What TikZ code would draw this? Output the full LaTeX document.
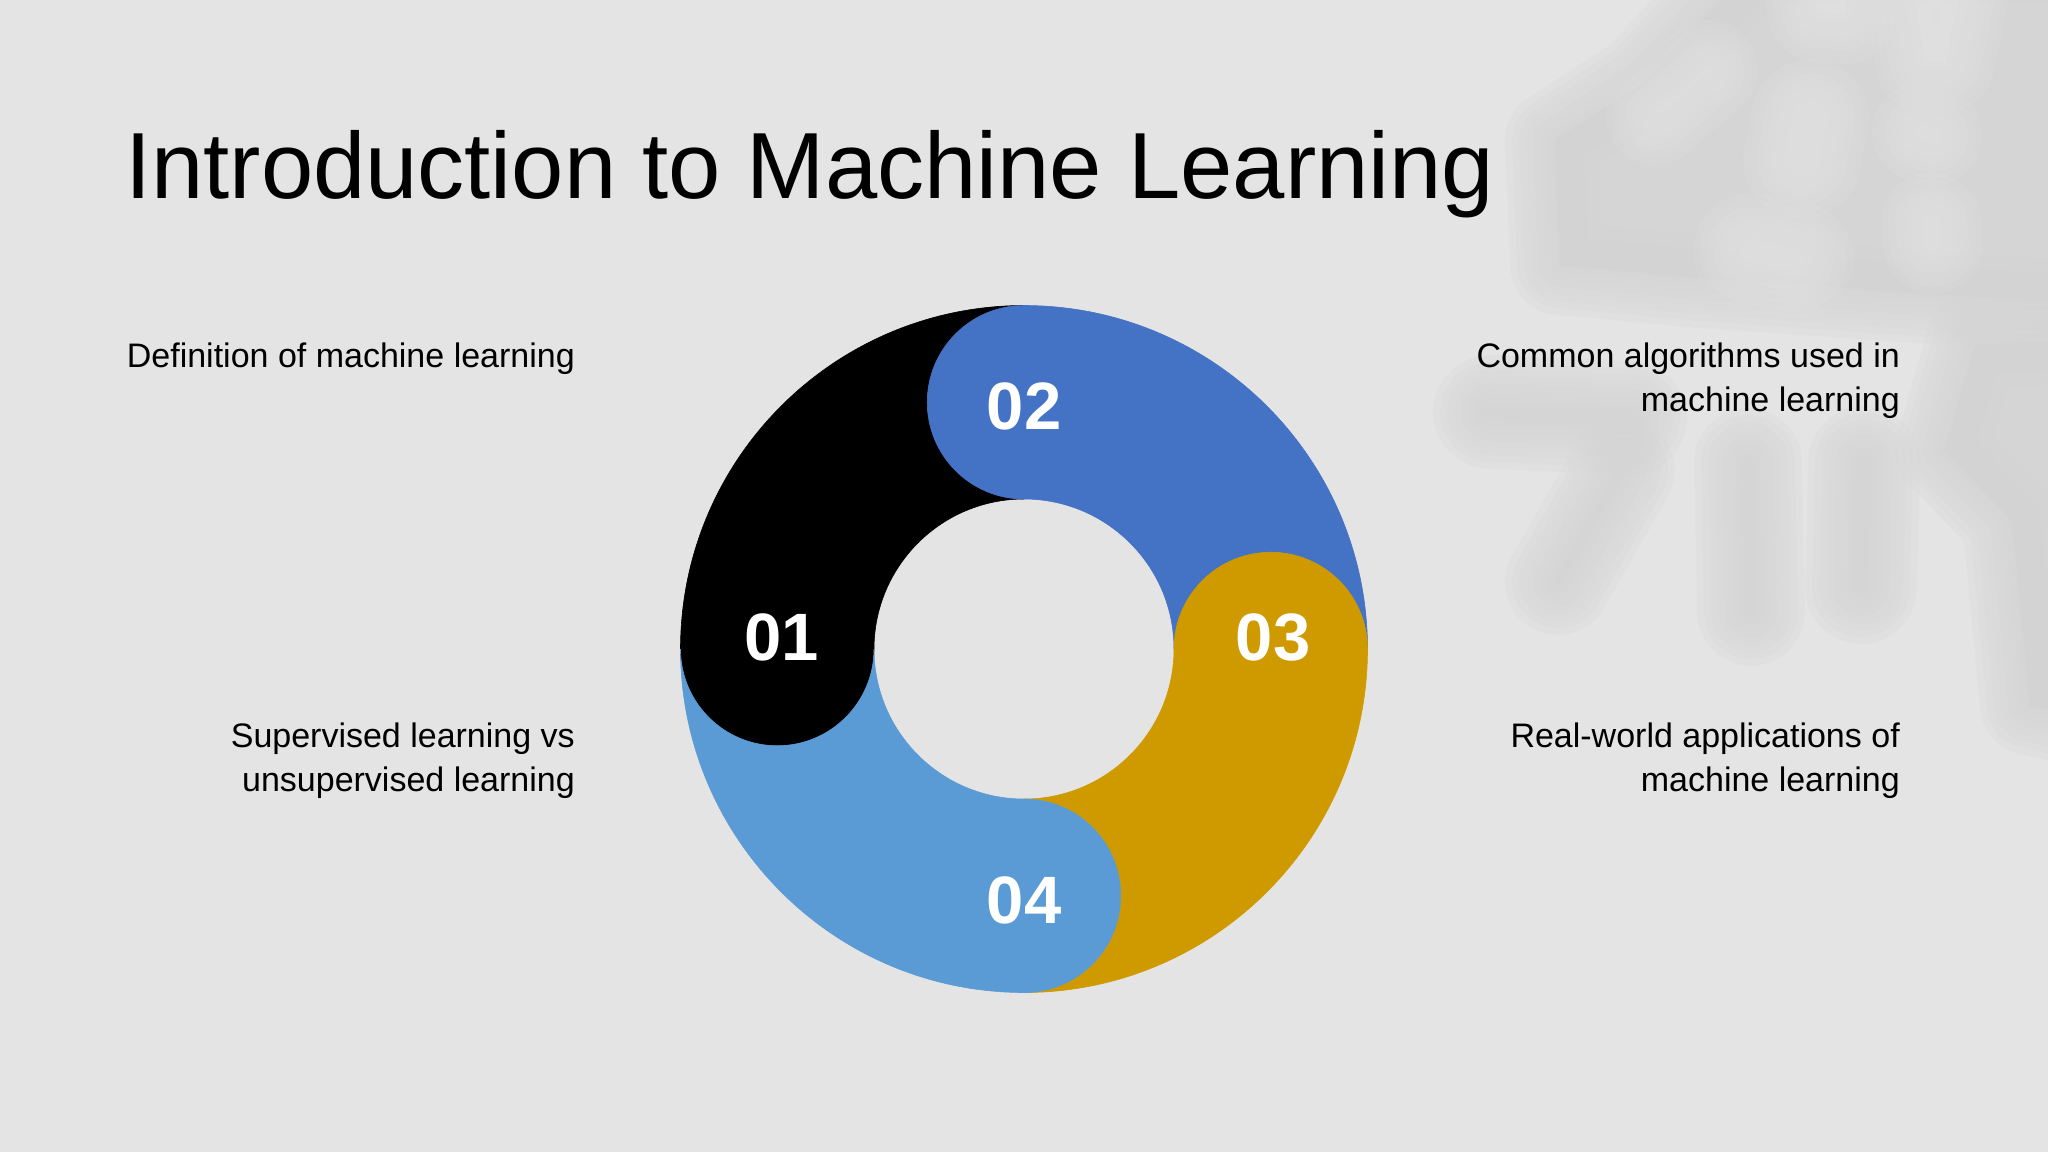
\documentclass[tikz,border=0pt]{standalone}
\usepackage{fontspec}
\setmainfont{Liberation Sans}
\definecolor{bgcol}{HTML}{E5E4E4}
\definecolor{segblack}{HTML}{000000}
\definecolor{segblue}{HTML}{4472C4}
\definecolor{seggold}{HTML}{CF9A00}
\definecolor{seglight}{HTML}{5B9BD5}
\tikzset{
  numlabel/.style={text=white, font=\bfseries\fontsize{67}{80}\selectfont, inner sep=0pt},
  bodytext/.style={text=black, font=\fontsize{34}{44}\selectfont, inner sep=0pt, align=right},
  titletext/.style={text=black, font=\fontsize{94}{110}\selectfont, inner sep=0pt},
  softpass/.style={opacity=0.2, line cap=round, line join=round},
}
% soft (blurred) shape: #1 path, #2 base width, #3 colour
\newcommand\softpath[3]{\foreach \w in {100,86,72,58,44,30,16,4}{\path[softpass, fill=#3, draw=#3, line width={#2+\w}] #1;}}
\newcommand\ringseg[2]{%
  \fill[#2, draw=#2, line width=0.6] (#1:343.5)
    arc[start angle=#1, end angle=#1+90, radius=343.5]
    arc[start angle=#1+90, end angle=#1+270, radius=96.75]
    arc[start angle=#1+90, end angle=#1, radius=150]
    arc[start angle=#1+180, end angle=#1, radius=96.75] -- cycle;}
\begin{document}
\begin{tikzpicture}[x=1pt,y=-1pt]
\useasboundingbox (0,0) rectangle (2048,1152);
\clip (0,0) rectangle (2048,1152);
\fill[bgcol] (0,0) rectangle (2048,1152);
% blurred leaf shadow (top right): dark parts
\begin{scope}[transparency group, opacity=0.075]
  \softpath{(1760,-40) -- (2090,-40) -- (2090,305) -- (1700,278) -- (1560,265) -- (1555,140) -- (1640,85) -- cycle}{0}{black}
  \softpath{(1490,412) -- (1630,418)}{14}{black}
  \softpath{(1622,470) -- (1558,582)}{6}{black}
  \softpath{(1748,462) -- (1751,612)}{8}{black}
  \softpath{(1864,462) -- (1861,588)}{12}{black}
  \softpath{(1975,345) -- (2090,340) -- (2090,720) -- (2030,705) -- (2012,520) -- (1945,450) -- cycle}{0}{black}
\end{scope}
% lighter gaps between the leaves
\begin{scope}[transparency group, opacity=0.7]
  \softpath{(1655,115) -- (1708,70)}{0}{bgcol}
  \softpath{(1810,118) -- (1802,160)}{18}{bgcol}
  \softpath{(1912,-20) -- (1962,-20) -- (1945,62) -- (1925,62) -- cycle}{0}{bgcol}
  \softpath{(1812,-20) -- (1850,-20) -- (1845,14) -- (1818,12) -- cycle}{0}{bgcol}
  \softpath{(1922,132) -- (1932,136)}{0}{bgcol}
  \softpath{(1752,252) -- (1795,260)}{18}{bgcol}
  \softpath{(1931,222) -- (1933,244)}{0}{bgcol}
\end{scope}
% ring
\begin{scope}[shift={(1024,649)}, yscale=-1]
  \ringseg{90}{segblack}
  \ringseg{0}{segblue}
  \ringseg{-90}{seggold}
  \ringseg{180}{seglight}
\end{scope}
\node[numlabel] (n01) at (782,637) {01};
\node[numlabel] (n02) at (1024,406) {02};
\node[numlabel] (n03) at (1273,637) {03};
\node[numlabel] (n04) at (1024,900) {04};
% title
\node[titletext, anchor=base west] (title) at (125,198) {Introduction to Machine Learning};
% descriptions
\node[bodytext, anchor=base east] (t1) at (575,367) {Definition of machine learning};
\node[bodytext, anchor=north east] (t2) at (575,723) {Supervised learning vs\\unsupervised learning};
\node[bodytext, anchor=north east] (t3) at (1900,343) {Common algorithms used in\\machine learning};
\node[bodytext, anchor=north east] (t4) at (1900,723) {Real-world applications of\\machine learning};
\end{tikzpicture}
\end{document}
